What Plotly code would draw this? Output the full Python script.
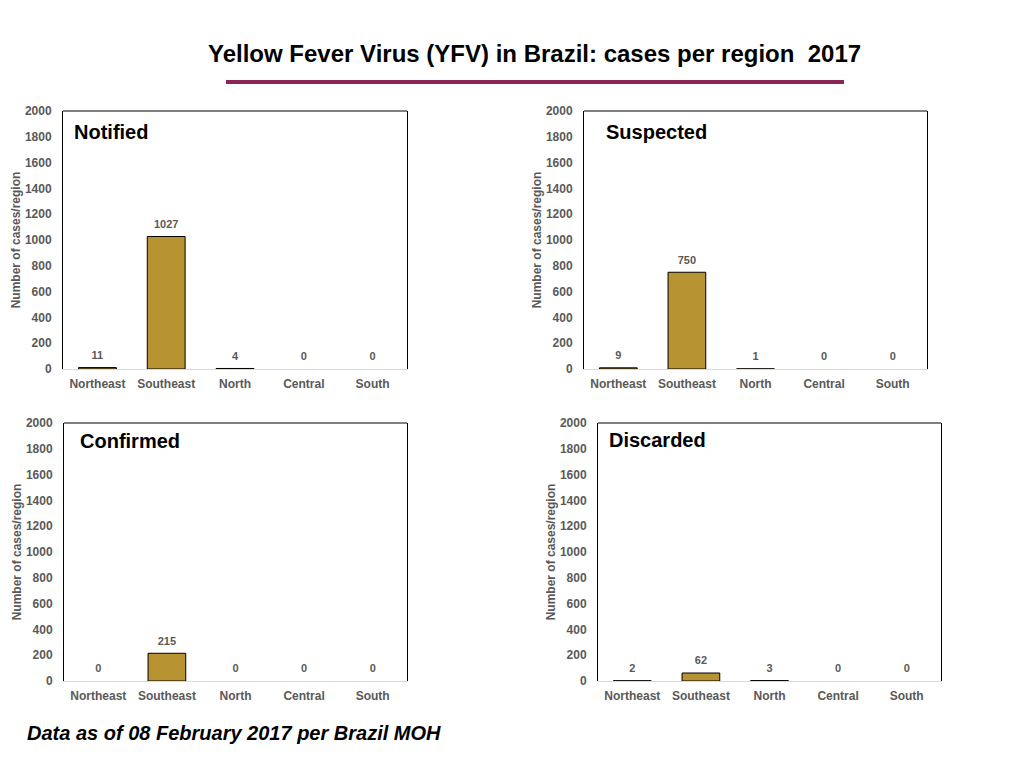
import plotly.graph_objects as go
from plotly.subplots import make_subplots

# regions and counts per panel
regions = ["Northeast", "Southeast", "North", "Central", "South"]
notified = [11, 1027, 4, 0, 0]
suspected = [9, 750, 1, 0, 0]
confirmed = [0, 215, 0, 0, 0]
discarded = [2, 62, 3, 0, 0]

panel_names = ["Notified", "Suspected", "Confirmed", "Discarded"]
y_ticks = [0, 200, 400, 600, 800, 1000, 1200, 1400, 1600, 1800, 2000]

BAR_COLOR = "#B79331"
GRAY = "#595959"
FONT = "Liberation Sans, Arial, sans-serif"

W, H = 1024, 768
OFF = 8  # page body margin


def px_x(v):
    return (v - OFF) / W


def px_y(v):
    return 1 - (v - OFF) / H


# plot boxes in pixels: left, right, top, bottom
boxes = [
    (63, 407, 111, 369),
    (584, 927, 111, 369),
    (64, 407, 423, 681),
    (598, 941, 423, 681),
]
# panel label positions (left, middle y)
label_pos = [(72, 132), (604, 132), (78, 441), (607, 440)]

fig = make_subplots(rows=2, cols=2)

series = [notified, suspected, confirmed, discarded]
cells = [(1, 1), (1, 2), (2, 1), (2, 2)]

for vals, (r, c) in zip(series, cells):
    fig.add_trace(go.Bar(x=regions, y=vals, width=0.55,
                         marker=dict(color=BAR_COLOR,
                                     line=dict(color="black", width=[1 if v > 0 else 0 for v in vals])),
                         showlegend=False, hoverinfo="skip"),
                  row=r, col=c)
    # value labels above bars
    fig.add_trace(go.Scatter(x=regions, y=vals, mode="markers+text", text=[str(v) for v in vals],
                             textposition="top center",
                             textfont=dict(family=FONT, size=11, color=GRAY, weight="bold"),
                             marker=dict(size=8, opacity=0),
                             showlegend=False, hoverinfo="skip", cliponaxis=False),
                  row=r, col=c)

layout_axes = {}
for i, (l, rgt, t, b) in enumerate(boxes):
    sfx = "" if i == 0 else str(i + 1)
    layout_axes["xaxis" + sfx] = dict(
        domain=[px_x(l), px_x(rgt)], showline=True, linecolor="#D9D9D9", linewidth=1,
        showgrid=False, ticks="", automargin=False, ticklabelstandoff=4,
        tickfont=dict(family=FONT, size=12, color=GRAY, weight="bold"),
    )
    layout_axes["yaxis" + sfx] = dict(
        domain=[px_y(b), px_y(t)], range=[0, 2000], tickvals=y_ticks, showgrid=False,
        zeroline=False, showline=True, linecolor="black", linewidth=1, mirror=True, ticks="",
        automargin=False, ticklabelstandoff=8,
        tickfont=dict(family=FONT, size=12, color=GRAY, weight="bold"),
        title=dict(text="Number of cases/region", standoff=1,
                   font=dict(family=FONT, size=12, color=GRAY, weight="bold")),
    )
    # top edge of the frame
    xr = "x" + sfx + " domain"
    yr = "y" + sfx + " domain"
    fig.add_shape(type="line", xref=xr, yref=yr, x0=0, x1=1, y0=1, y1=1,
                  line=dict(color="black", width=1))

fig.update_layout(**layout_axes)

for name, (lx, ly) in zip(panel_names, label_pos):
    fig.add_annotation(text="<b>" + name + "</b>", xref="paper", yref="paper",
                       x=px_x(lx), y=px_y(ly), xanchor="left", yanchor="middle", showarrow=False,
                       font=dict(family=FONT, size=20, color="black"))

# main title and rule
fig.add_annotation(text="<b>Yellow Fever Virus (YFV) in Brazil: cases per region  2017</b>",
                   xref="paper", yref="paper", x=px_x(534), y=px_y(53), xanchor="center",
                   yanchor="middle", showarrow=False, font=dict(family=FONT, size=24, color="black"))
fig.add_shape(type="line", xref="paper", yref="paper", x0=px_x(226), x1=px_x(844),
              y0=px_y(82), y1=px_y(82), line=dict(color="#8B2556", width=4))

# footer note
fig.add_annotation(text="<b><i>Data as of 08 February 2017 per Brazil MOH</i></b>",
                   xref="paper", yref="paper", x=px_x(25), y=px_y(733), xanchor="left",
                   yanchor="middle", showarrow=False, font=dict(family=FONT, size=20, color="black"))

fig.update_layout(width=W, height=H, margin=dict(l=0, r=0, t=0, b=0),
                  paper_bgcolor="white", plot_bgcolor="white", bargap=0.45,
                  font=dict(family=FONT))

fig.write_html("out.html")
